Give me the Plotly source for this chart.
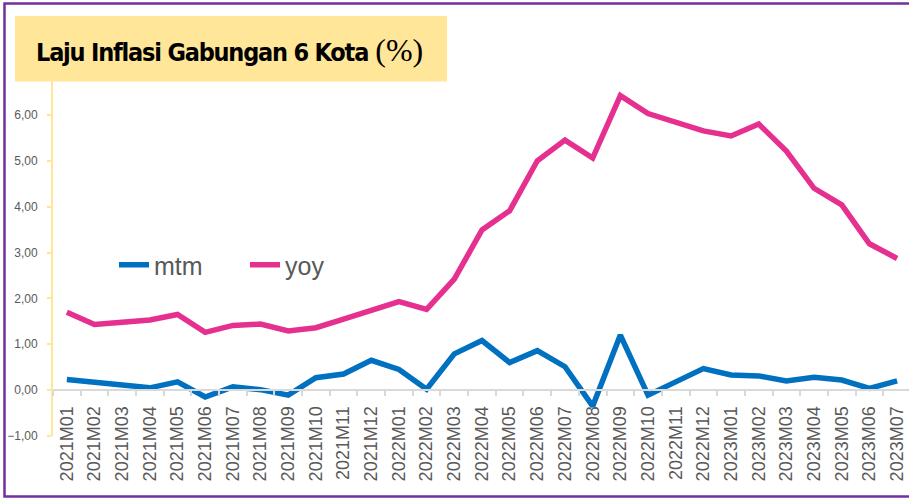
import plotly.graph_objects as go

categories = ["2021M01","2021M02","2021M03","2021M04","2021M05","2021M06","2021M07","2021M08",
              "2021M09","2021M10","2021M11","2021M12","2022M01","2022M02","2022M03","2022M04",
              "2022M05","2022M06","2022M07","2022M08","2022M09","2022M10","2022M11","2022M12",
              "2023M01","2023M02","2023M03","2023M04","2023M05","2023M06","2023M07"]
mtm = [0.23,0.17,0.09,0.05,0.18,-0.15,0.07,0.01,-0.11,0.27,0.35,0.65,
       0.45,0.02,0.79,1.08,0.60,0.86,0.51,-0.35,1.20,-0.11,0.18,0.47,
       0.33,0.31,0.20,0.28,0.22,0.04,0.20]
yoy = [1.70,1.43,1.48,1.53,1.65,1.26,1.41,1.44,1.29,1.36,1.55,1.73,
       1.93,1.76,2.42,3.49,3.91,5.00,5.45,5.06,6.42,6.03,5.83,5.65,
       5.54,5.80,5.21,4.40,4.04,3.19,2.87]
y_ticks = [-1, 0, 1, 2, 3, 4, 5, 6]
title_main = "Laju Inflasi Gabungan 6 Kota"
title_unit = "(%)"

W, H = 909, 500
ML, MR, MT, MB = 53, 0, 69, 64
pw, ph = W - ML - MR, H - MT - MB

def px_x(x):
    return (x - ML) / pw

def px_y(y):
    return (H - MB - y) / ph

fig = go.Figure()
fig.add_trace(go.Scatter(x=categories, y=mtm, name="mtm", mode="lines",
                         line=dict(color="#0070C0", width=5.5)))
fig.add_trace(go.Scatter(x=categories, y=yoy, name="yoy", mode="lines",
                         line=dict(color="#E6308F", width=5.5)))

ymin, ymax = -1, 7
fig.update_layout(
    width=W, height=H,
    margin=dict(l=ML, r=MR, t=MT, b=MB, pad=0),
    paper_bgcolor="white", plot_bgcolor="white",
    separators=",.",
    font=dict(family="Liberation Sans, Arial, sans-serif", color="#595959"),
    showlegend=True,
    legend=dict(orientation="h", x=px_x(114), y=px_y(265), xanchor="left", yanchor="middle",
                font=dict(size=25, color="#595959"), bgcolor="rgba(0,0,0,0)",
                entrywidth=86, entrywidthmode="pixels", itemclick=False),
    xaxis=dict(type="category", range=[-0.5, 30.43], anchor="free",
               position=(0 - ymin) / (ymax - ymin),
               showline=True, linecolor="#D9D9D9", linewidth=2,
               ticks="outside", ticklen=5, tickcolor="#D9D9D9", tickwidth=1.5,
               tickson="boundaries", tickangle=-90,
               tickfont=dict(size=18, color="#595959"), ticklabelstandoff=8,
               showgrid=False, zeroline=False, fixedrange=True),
    yaxis=dict(range=[ymin, ymax], tickvals=y_ticks, tickformat=".2f",
               showline=True, linecolor="#FFE699", linewidth=2,
               ticks="outside", ticklen=4, tickcolor="#FFE699", tickwidth=1.5,
               tickfont=dict(size=12, color="#595959"), ticklabelstandoff=7,
               showgrid=False, zeroline=False, fixedrange=True),
)

# title box
fig.add_shape(type="rect", xref="paper", yref="paper", layer="above",
              x0=px_x(15), x1=px_x(447), y0=px_y(81.5), y1=px_y(16),
              fillcolor="#FFE699", line=dict(width=0))
fig.add_annotation(xref="paper", yref="paper", x=px_x(34), y=px_y(50),
                   xanchor="left", yanchor="middle", showarrow=False,
                   text=(f"<span style='letter-spacing:-1.2px'><b>{title_main}</b></span> "
                         f"<span style='font-family:Liberation Serif, Times New Roman, serif;font-size:32px'>{title_unit}</span>"),
                   font=dict(family="DejaVu Sans Condensed, Liberation Sans Narrow, sans-serif",
                             size=25, color="black"))

# outer purple frame (left, top, bottom visible)
fig.add_shape(type="rect", xref="paper", yref="paper", layer="above",
              x0=px_x(4.5), x1=px_x(960), y0=px_y(496.5), y1=px_y(3.5),
              fillcolor="rgba(0,0,0,0)", line=dict(color="#7030A0", width=2.5))

fig.write_html("out.html", config={"displayModeBar": False},
               post_script="document.body.style.margin='0';document.body.style.overflow='hidden';")
